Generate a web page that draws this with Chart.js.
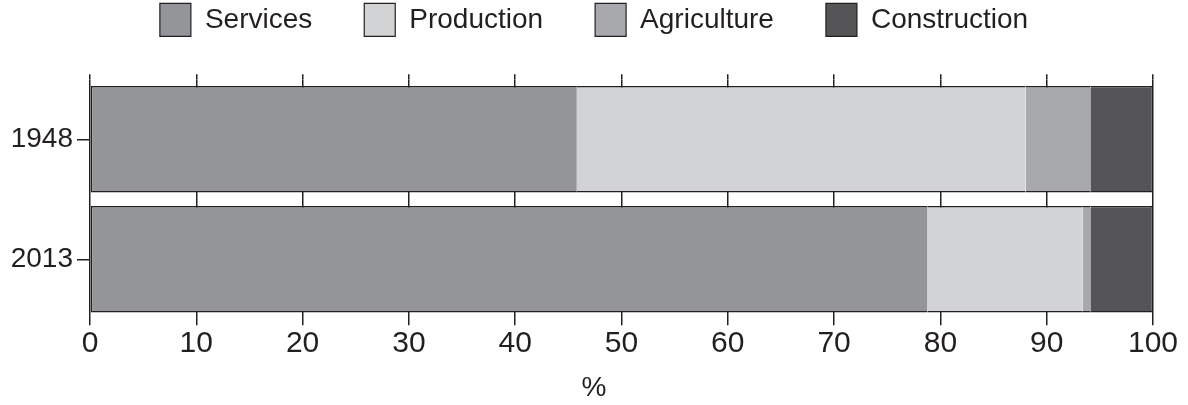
<!DOCTYPE html>
<html>
<head>
<meta charset="utf-8">
<script src="https://cdn.jsdelivr.net/npm/chart.js@4/dist/chart.umd.min.js"></script>
<style>
  html, body { margin: 0; padding: 0; background: #ffffff; }
  #wrap { width: 1188px; height: 405px; position: relative; }
</style>
</head>
<body>
<div id="wrap"><canvas id="c"></canvas></div>
<script>
const categories = ['1948', '2013'];
const seriesNames = ['Services', 'Production', 'Agriculture', 'Construction'];
const services = [45.8, 78.8];
const production = [42.2, 14.6];
const agriculture = [6.1, 0.7];
const construction = [5.9, 5.9];
const xTicks = [0, 10, 20, 30, 40, 50, 60, 70, 80, 90, 100];
const axisTitle = '%';

const INK = '#231f20';
const FONT = "'Liberation Sans', Arial, Helvetica, sans-serif";
const colors = ['#939598', '#d1d3d4', '#a7a9ac', '#555557'];
const bw = 1.5;
const borders = [
  {top: bw, bottom: bw, left: bw, right: 0},
  {top: bw, bottom: bw, left: 0, right: 0},
  {top: bw, bottom: bw, left: 0, right: 0},
  {top: bw, bottom: bw, left: 0, right: bw}
];
const values = [services, production, agriculture, construction];

const datasets = seriesNames.map((name, i) => ({
  label: name,
  data: values[i],
  backgroundColor: colors[i],
  borderColor: INK,
  borderWidth: borders[i],
  borderSkipped: false,
  barPercentage: 0.8875,
  categoryPercentage: 1.0,
  xAxisID: 'x'
}));

// center legend and axis title on the full canvas width
const fullWidthCenter = {
  id: 'fullWidthCenter',
  afterLayout(chart) {
    [chart.legend, chart.titleBlock].forEach(b => {
      if (!b) return;
      b.left = 0;
      b.right = chart.width;
      b.width = chart.width;
    });
  }
};

new Chart(document.getElementById('c'), {
  type: 'bar',
  data: { labels: categories, datasets },
  plugins: [fullWidthCenter],
  options: {
    indexAxis: 'y',
    responsive: true,
    maintainAspectRatio: false,
    animation: false,
    layout: { padding: { top: -48.7, left: 8.5, right: 35, bottom: 0 } },
    scales: {
      x: {
        type: 'linear',
        position: 'bottom',
        stacked: true,
        min: 0, max: 100,
        afterBuildTicks: (s) => { s.ticks = xTicks.map(v => ({ value: v })); },
        afterFit: (s) => { s.height = 42.15; },
        grid: { color: INK, lineWidth: 1.5, tickLength: 6, drawTicks: true, drawOnChartArea: true },
        border: { display: false },
        ticks: { color: INK, font: { family: FONT, size: 30 }, padding: 0, maxRotation: 0, autoSkip: false }
      },
      x2: {
        type: 'linear',
        position: 'top',
        min: 0, max: 100,
        afterBuildTicks: (s) => { s.ticks = xTicks.map(v => ({ value: v })); },
        afterFit: (s) => { s.height = 33; },
        grid: { color: INK, lineWidth: 1.5, tickLength: 5, drawTicks: true, drawOnChartArea: false },
        border: { display: false },
        ticks: { display: false }
      },
      y: {
        stacked: true,
        afterFit: (s) => { s.width = 81.5; },
        grid: { color: INK, lineWidth: 1.5, tickLength: 13, drawTicks: true, drawOnChartArea: false, offset: false },
        border: { display: false },
        ticks: { color: INK, font: { family: FONT, size: 28 }, padding: 4 }
      }
    },
    plugins: {
      tooltip: { enabled: false },
      legend: {
        display: true,
        position: 'top',
        align: 'center',
        labels: {
          color: INK,
          font: { family: FONT, size: 28 },
          boxWidth: 31,
          boxHeight: 33,
          padding: 52,
          generateLabels: (chart) => chart.data.datasets.map((d, i) => ({
            text: d.label,
            fillStyle: d.backgroundColor,
            strokeStyle: INK,
            lineWidth: 1.2,
            fontColor: INK,
            hidden: false,
            datasetIndex: i
          }))
        }
      },
      title: {
        display: true,
        text: axisTitle,
        position: 'bottom',
        color: INK,
        font: { family: FONT, size: 28, weight: 'normal' },
        padding: { top: 10, bottom: 0 }
      }
    }
  }
});
</script>
</body>
</html>
